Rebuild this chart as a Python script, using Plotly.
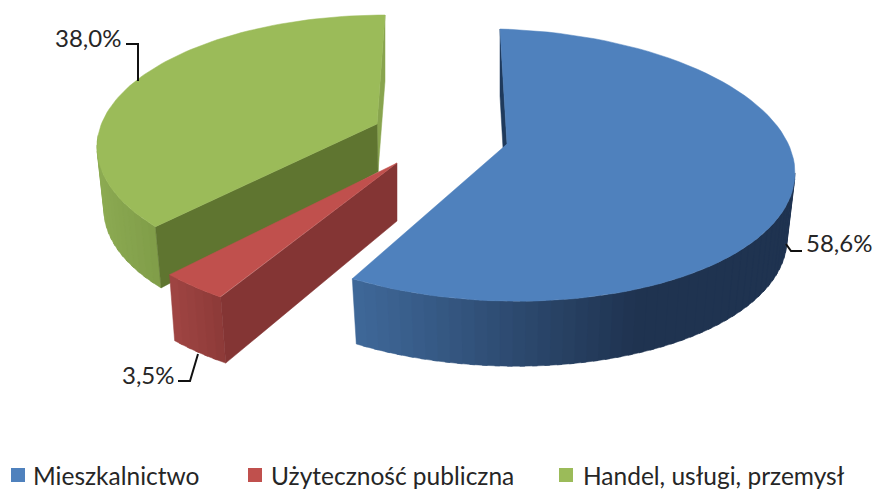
import math
import plotly.graph_objects as go

# --- data ---
categories = ["Mieszkalnictwo", "Użyteczność publiczna", "Handel, usługi, przemysł"]
shares = [58.6, 3.5, 38.0]

# --- style / layout (pixel space of the 876x489 canvas) ---
FONT = "Lato, Carlito, Calibri, sans-serif"
TEXT = "#262626"
top_colors = ["#4F81BD", "#C0504D", "#9BBB59"]
cut_colors = ["#1F3A5C", "#843534", "#5F7530"]
sliver_colors = ["#1F3A5C", None, "#88A44E"]
wall_ramps = [((352, (63, 104, 153)), (634, (31, 51, 80))),
              ((168, (160, 69, 67)), (225, (138, 57, 55))),
              ((97, (140, 170, 82)), (163, (126, 155, 71)))]
top_ell = [(500, 165, 295, 136), (370, 151, 292, 170), (385, 147, 288, 132)]
bot_ell = [(500, 231, 287, 135), (375, 217, 292, 170), (385, 210, 281, 129)]
shear = [0.027, 0.0, 0.0]
apex_top = [(507, 144), (397, 163), (377, 124)]
apex_bot = [(503, 148), (397, 221), (378, 172)]
trims = [(0, -0.7), (0, 0), (9.5, 0)]
wall_spans = [(90, None), (None, None), (None, 275)]
label_pos = [(839, 242), (148, 374), (88, 37)]
leaders = [[(802, 251), (791, 251), (786, 244)],
           [(178, 381), (190, 381), (198, 354)],
           [(126, 44), (138, 44), (138, 81)]]
legend_sq = [18, 255, 566]
legend_tx = [33, 271, 583]
legend_y = 475


def pt(ell, t, s=0.0):
    cx, cy, rx, ry = ell
    a = math.radians(t)
    dx = rx * math.sin(a)
    return cx + dx, cy - ry * math.cos(a) + s * dx


def arc(ell, t0, t1, n, s=0.0):
    return [pt(ell, t0 + (t1 - t0) * i / n, s) for i in range(n + 1)]


def ramp(stops, x):
    (x0, c0), (x1, c1) = stops
    f = max(0, min(1, (x - x0) / (x1 - x0)))
    return "rgb(%d,%d,%d)" % tuple(round(a + (b - a) * f) for a, b in zip(c0, c1))


fig = go.Figure()


def poly(points, color, name=None):
    fig.add_trace(go.Scatter(
        x=[p[0] for p in points] + [points[0][0]],
        y=[p[1] for p in points] + [points[0][1]],
        mode="lines", fill="toself", fillcolor=color,
        line=dict(color=color, width=0.5),
        hoverinfo="skip", showlegend=False, name=name))


total = sum(shares)
starts, acc = [], 0.0
for v in shares:
    starts.append(acc)
    acc += v

for i in (2, 1, 0):
    t0 = starts[i] / total * 360 + trims[i][0]
    t1 = (starts[i] + shares[i]) / total * 360 + trims[i][1]
    top, bot, s = top_ell[i], bot_ell[i], shear[i]

    # rear cut face, seen as a thin sliver
    if sliver_colors[i]:
        t_edge = t1 if i == 2 else t0
        poly([pt(top, t_edge, s), pt(bot, t_edge, s), apex_bot[i], apex_top[i]], sliver_colors[i])

    # outer rim, shaded strip by strip
    w0 = wall_spans[i][0] if wall_spans[i][0] is not None else t0
    w1 = wall_spans[i][1] if wall_spans[i][1] is not None else t1
    n = max(6, int(abs(w1 - w0) / 2.5))
    for k in range(n):
        a = w0 + (w1 - w0) * k / n
        b = w0 + (w1 - w0) * (k + 1.4) / n
        b = min(b, max(w0, w1))
        xm = pt(top, (a + b) / 2, s)[0]
        poly([pt(top, a, s), pt(top, b, s), pt(bot, b, s), pt(bot, a, s)], ramp(wall_ramps[i], xm))

    # front cut face
    if i != 0:
        poly([apex_top[i], pt(top, t0, s), pt(bot, t0, s), apex_bot[i]], cut_colors[i])

    # top face
    poly([apex_top[i]] + arc(top, t0, t1, 90, s), top_colors[i], categories[i])

# leader lines and value labels
for i, v in enumerate(shares):
    fig.add_trace(go.Scatter(
        x=[p[0] for p in leaders[i]], y=[p[1] for p in leaders[i]],
        mode="lines", line=dict(color="#111111", width=2),
        hoverinfo="skip", showlegend=False))
    fig.add_annotation(x=label_pos[i][0], y=label_pos[i][1],
                       text=f"{v:.1f}".replace(".", ",") + "%",
                       showarrow=False, xanchor="center", yanchor="middle",
                       font=dict(family=FONT, size=24, color=TEXT))

# legend row
for i, name in enumerate(categories):
    fig.add_trace(go.Scatter(
        x=[legend_sq[i]], y=[legend_y], mode="markers",
        marker=dict(symbol="square", size=14, color=top_colors[i]),
        name=name, hoverinfo="skip", showlegend=False))
    fig.add_annotation(x=legend_tx[i], y=legend_y, text=name, showarrow=False,
                       xanchor="left", yanchor="middle", xshift=-2,
                       font=dict(family=FONT, size=24.5, color=TEXT))

fig.update_layout(
    width=876, height=489, margin=dict(l=0, r=0, t=0, b=0),
    paper_bgcolor="white", plot_bgcolor="white", showlegend=False,
    xaxis=dict(range=[0, 876], visible=False, fixedrange=True),
    yaxis=dict(range=[489, 0], visible=False, fixedrange=True),
)
fig.write_html("out.html", config={"displayModeBar": False},
               post_script="document.body.style.margin='0';document.documentElement.style.overflow='hidden';")
